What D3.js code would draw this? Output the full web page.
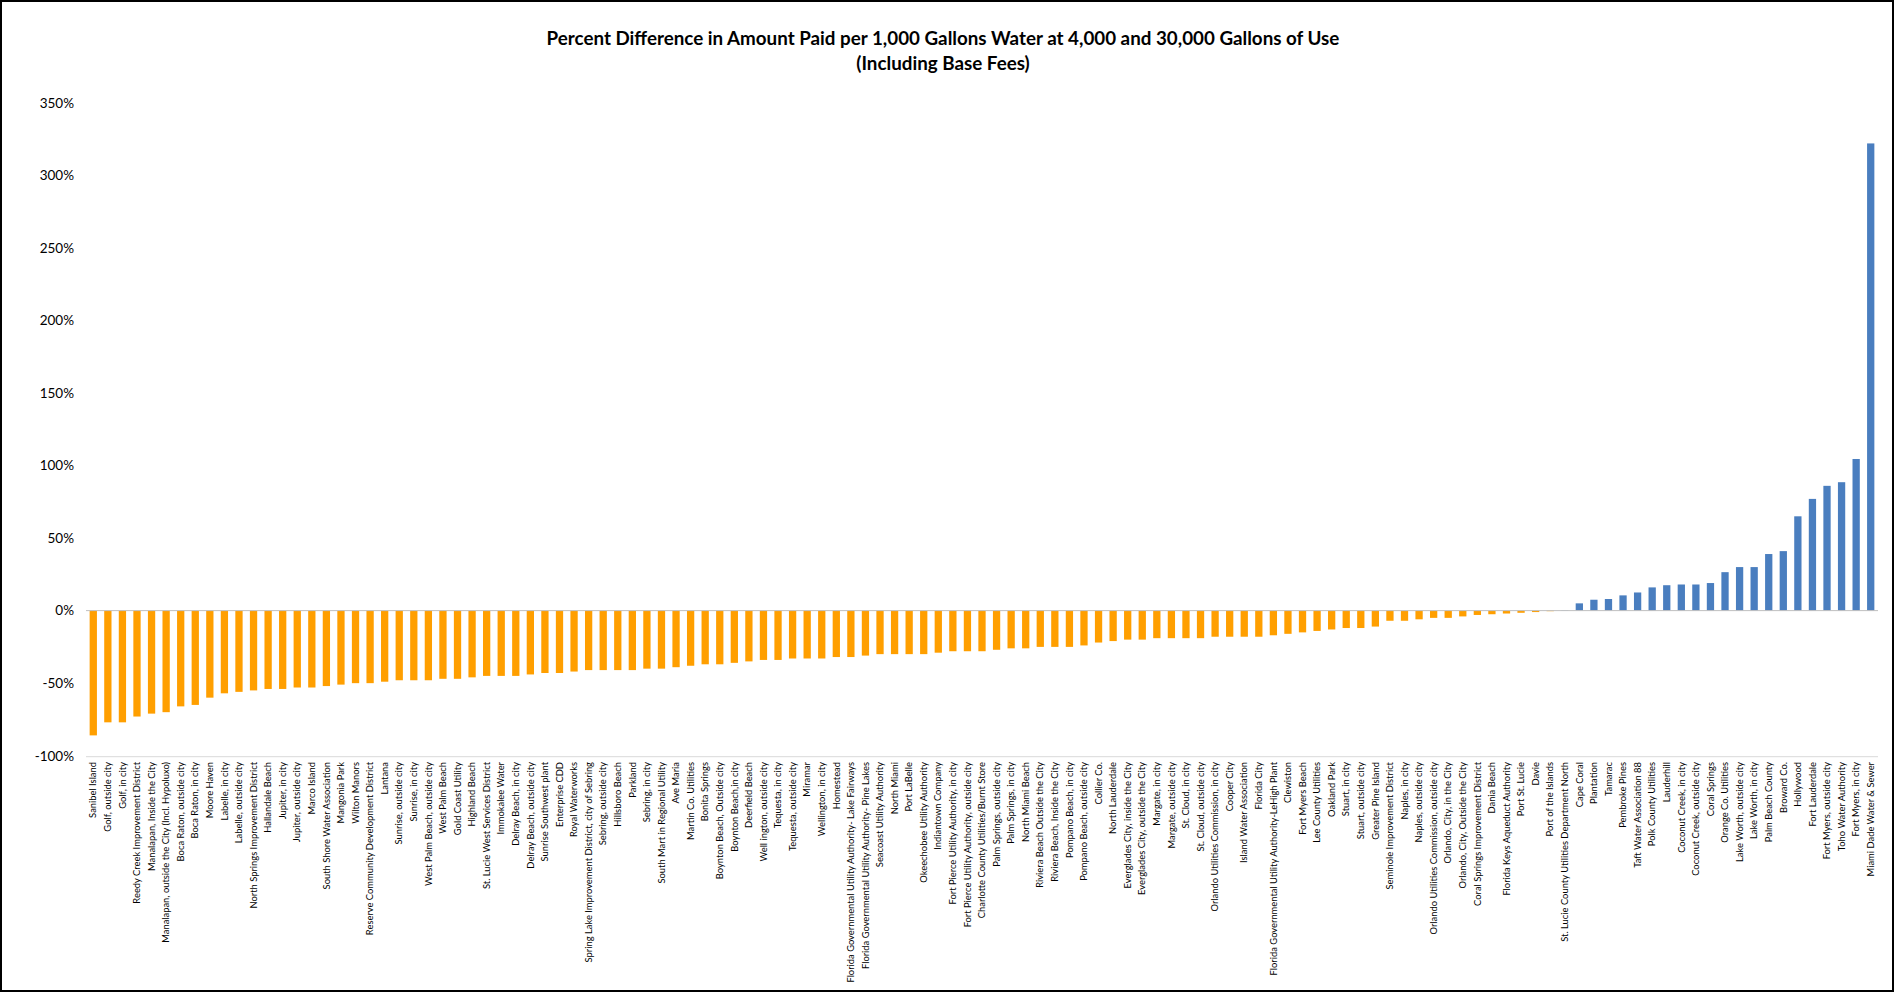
<!DOCTYPE html>
<html><head><meta charset="utf-8">
<script src="https://cdn.jsdelivr.net/npm/d3@7/dist/d3.min.js"></script>
<style>body{margin:0;background:#fff}svg{display:block}</style>
</head><body>
<script>
const categories = ["Sanibel Island","Golf, outside city","Golf, in city","Reedy Creek Improvement District","Manalapan, Inside the City","Manalapan, outside the City (Incl. Hypoluxo)","Boca Raton, outside city","Boca Raton,  in city","Moore Haven","Labelle, in city","Labelle, outside city","North Springs Improvement District","Hallandale Beach","Jupiter, in city","Jupiter, outside city","Marco Island","South Shore Water Association","Mangonia Park","Wilton Manors","Reserve Community Development District","Lantana","Sunrise, outside city","Sunrise, in city","West Palm Beach, outside city","West Palm Beach","Gold Coast Utility","Highland Beach","St. Lucie West Services District","Immokalee Water","Delray Beach,  in city","Delray Beach, outside city","Sunrise Southwest plant","Enterprise CDD","Royal Waterworks","Spring Lake Improvement District, city of Sebring","Sebring, outside city","Hillsboro Beach","Parkland","Sebring, in city","South Mart in Regional Utility","Ave Maria","Martin Co. Utilities","Bonita Springs","Boynton Beach, Outside city","Boynton Beach,in city","Deerfield Beach","Well ington, outside city","Tequesta, in city","Tequesta, outside city","Miramar","Wellington, in city","Homestead","Florida Governmental Utility Authority- Lake Fairways","Florida Governmental Utility Authority- Pine Lakes","Seacoast Utility Authority","North Miami","Port LaBelle","Okeechobee Utility Authority","Indiantown Company","Fort Pierce Utility Authority, in city","Fort Pierce Utility Authority, outside city","Charlotte County Utilities/Burnt Store","Palm Springs, outside city","Palm Springs, in city","North Miami Beach","Riviera Beach Outside the City","Riviera Beach, Inside the City","Pompano Beach,  in city","Pompano Beach, outside city","Collier Co.","North Lauderdale","Everglades City, inside the City","Everglades City, outside the City","Margate, in city","Margate, outside city","St. Cloud, in city","St. Cloud, outside city","Orlando Utilities Commission, in city","Cooper City","Island Water Association","Florida City","Florida Governmental Utility Authority-LeHigh Plant","Clewiston","Fort Myers Beach","Lee County Utilities","Oakland Park","Stuart, in city","Stuart, outside city","Greater Pine Island","Seminole Improvement District","Naples, in city","Naples, outside city","Orlando Utilities Commission, outside city","Orlando, City, in the City","Orlando, City, Outside the City","Coral Springs Improvement District","Dania Beach","Florida Keys Aqueduct Authority","Port St. Lucie","Davie","Port of the Islands","St. Lucie County Utilities Department North","Cape Coral","Plantation","Tamarac","Pembroke Pines","Taft Water Association 88","Polk County Utilities","Lauderhill","Coconut Creek, in city","Coconut Creek, outside city","Coral Springs","Orange Co. Utilities","Lake Worth, outside city","Lake Worth, in city","Palm Beach County","Broward Co.","Hollywood","Fort Lauderdale","Fort Myers, outside city","Toho Water Authority","Fort Myers, in city","Miami Dade Water & Sewer"];

const values = [-86,-77,-77,-73,-71,-70,-66,-65,-60,-57,-56,-55,-54,-54,-53,-53,-52,-51,-50,-50,-49,-48,-48,-48,-47,-47,-46,-45,-45,-45,-44,-43,-43,-42,-41,-41,-41,-41,-40,-40,-39,-38,-37,-37,-36,-35,-34,-34,-33,-33,-33,-32,-32,-31,-30,-30,-30,-30,-29,-28,-28,-28,-27,-26,-26,-25,-25,-25,-24,-22,-21,-20,-20,-19,-19,-19,-19,-18,-18,-18,-18,-17,-16,-15,-14,-13,-12,-12,-11,-7,-7,-6,-5,-5,-4,-3,-2.5,-2,-1.5,-1,-0.4,0.2,5,7.5,8,10.5,12.5,16,17.5,18,18,19,26.5,30,30,39,41,65,77,86,88.5,104.5,322];

const yTicks = [-100,-50,0,50,100,150,200,250,300,350];
const titleLines = ["Percent Difference in Amount Paid per 1,000 Gallons Water at 4,000 and 30,000 Gallons of Use","(Including Base Fees)"];

const W = 1896, H = 992;
const svg = d3.select("body").append("svg").attr("width", W).attr("height", H);
svg.append("rect").attr("x",1).attr("y",1).attr("width",W-4).attr("height",H-2)
  .attr("fill","#fff").attr("stroke","#000").attr("stroke-width",2);

const x = d3.scaleBand().domain(categories).range([86, 1878]).paddingInner(0.5).paddingOuter(0.25);
const y = d3.scaleLinear().domain([-100, 350]).range([755.7, 102.8]);

svg.append("g").attr("font-family","Lato, 'Open Sans', sans-serif").attr("font-weight","bold")
  .attr("font-size",18.8).attr("fill","#000").attr("text-anchor","middle")
  .selectAll("text").data(titleLines).join("text")
  .attr("x", 943).attr("y",(d,i)=>45+i*25).text(d=>d);

// y axis
const yAxis = d3.axisLeft(y).tickValues(yTicks).tickFormat(d=>d+"%").tickSize(0).tickPadding(0);
const gy = svg.append("g").attr("transform","translate(74,0)").call(yAxis);
gy.select(".domain").remove();
gy.selectAll("text").attr("font-family","Lato, 'Open Sans', sans-serif").attr("font-size",13.5).attr("fill","#000");

// bottom line
svg.append("line").attr("x1",86).attr("x2",1878).attr("y1",y(-100)+1).attr("y2",y(-100)+1)
  .attr("stroke","#d9d9d9").attr("stroke-width",1);

// bars
svg.append("g").selectAll("rect").data(categories).join("rect")
  .attr("x", d=>x(d))
  .attr("width", x.bandwidth())
  .attr("y", (d,i)=>y(Math.max(0, values[i])))
  .attr("height", (d,i)=>Math.abs(y(values[i]) - y(0)))
  .attr("fill", (d,i)=> values[i] < 0 ? "#FF9F00" : "#4A7EBF");

// zero line
svg.append("line").attr("x1",86).attr("x2",1878).attr("y1",y(0)).attr("y2",y(0))
  .attr("stroke","#bfbfbf").attr("stroke-width",1);

// category labels
const gx = svg.append("g").attr("font-family","Lato, 'Open Sans', sans-serif").attr("font-size",9.4).attr("fill","#000");
gx.selectAll("text").data(categories).join("text")
  .attr("transform", d=>`translate(${x(d)+x.bandwidth()/2+3.2},762) rotate(-90)`)
  .attr("text-anchor","end").text(d=>d);
</script>
</body></html>
